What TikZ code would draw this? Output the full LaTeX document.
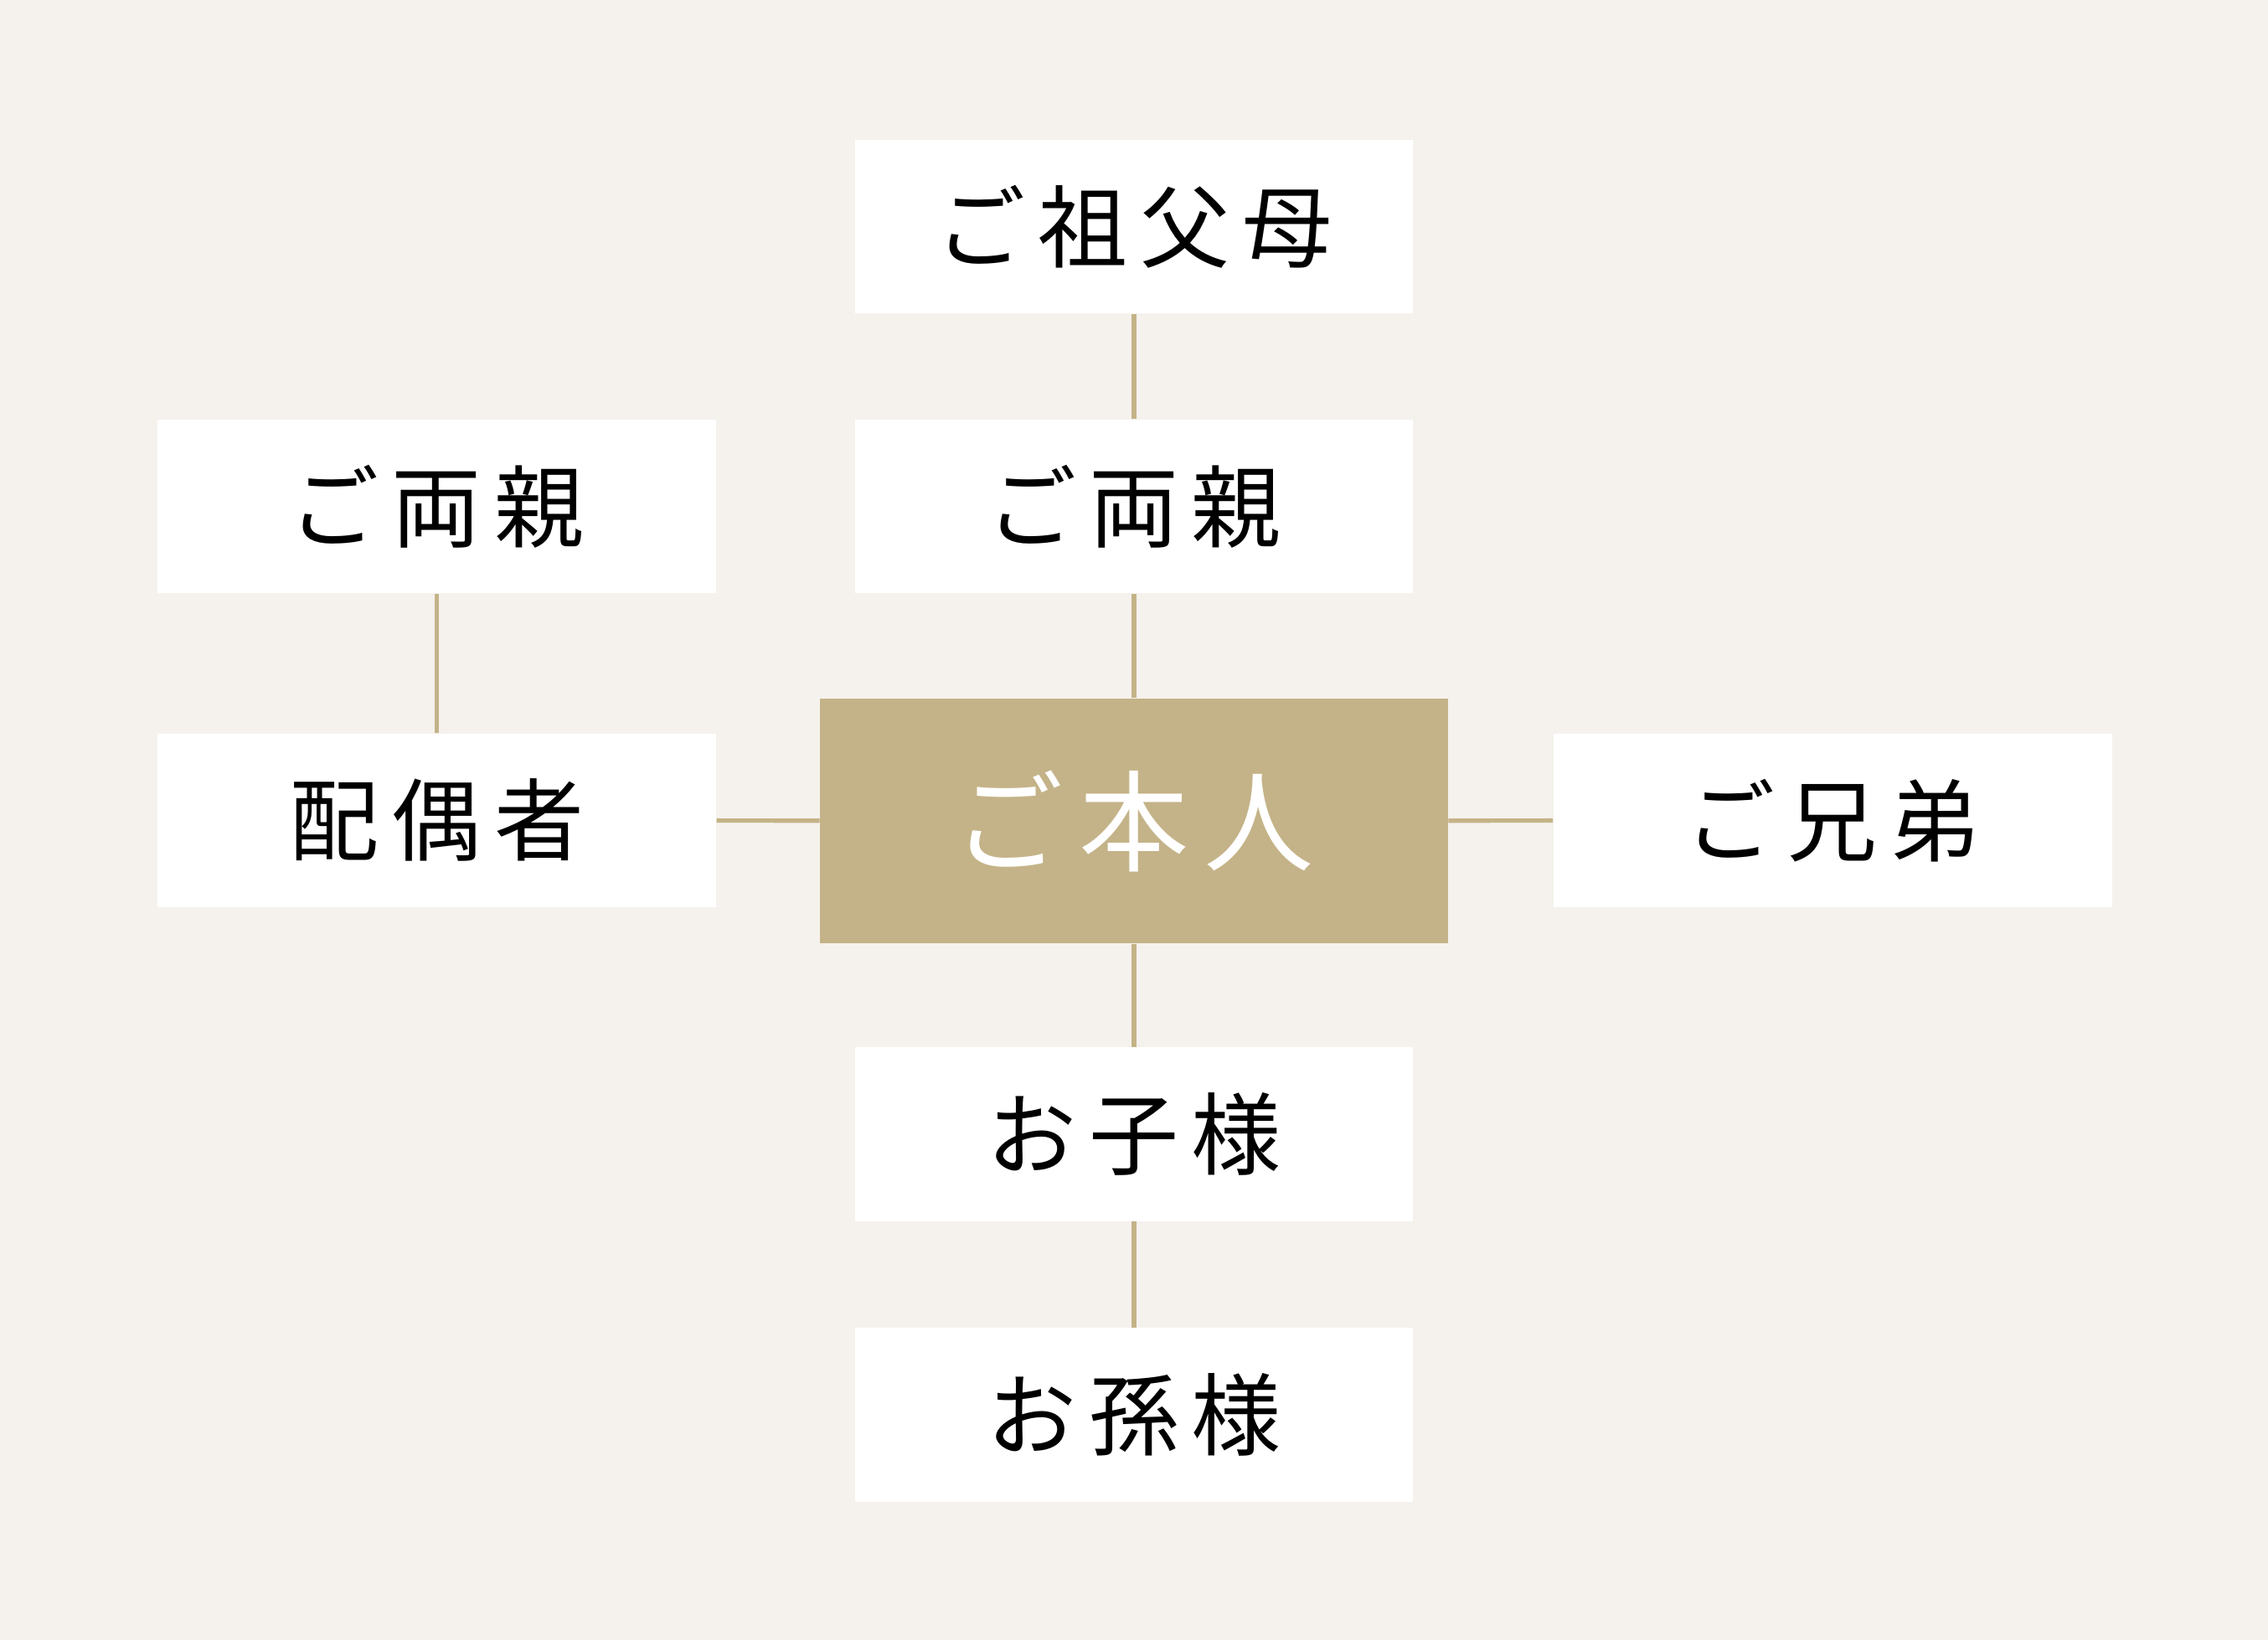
\documentclass[tikz,border=0pt]{standalone}
\usepackage{fontspec}
\newfontfamily\cjk[LetterSpace=14]{Noto Sans CJK JP}
\definecolor{bg}{HTML}{F5F2ED}
\definecolor{gold}{HTML}{C4B388}
\begin{document}
\begin{tikzpicture}[x=0.5pt,y=-0.5pt,
  box/.style={fill=white,draw=none,minimum width=193pt,minimum height=60pt,inner sep=0pt,font=\cjk\fontsize{31}{31}\selectfont,text=black},
  selfbox/.style={fill=gold,draw=none,minimum width=217pt,minimum height=84.5pt,inner sep=0pt,font=\cjk\fontsize{38}{38}\selectfont,text=white},
  link/.style={draw=gold,line width=1.5pt}]
\fill[bg] (0,0) rectangle (1568,1134);
\useasboundingbox (0,0) rectangle (1568,1134);
\node[box] (gp) at (784,156.5) {ご祖父母};
\node[box] (par) at (784,350) {ご両親};
\node[box] (ipar) at (302,350) {ご両親};
\node[box] (sp) at (302,567) {配偶者};
\node[selfbox] (me) at (784,567.5) {ご本人};
\node[box] (sib) at (1267,567) {ご兄弟};
\node[box] (ch) at (784,784) {お子様};
\node[box] (gc) at (784,978) {お孫様};
\draw[link] (gp) -- (par);
\draw[link] (par) -- (me);
\draw[link] (ipar) -- (sp);
\draw[link] (sp) -- (me);
\draw[link] (me) -- (sib);
\draw[link] (me) -- (ch);
\draw[link] (ch) -- (gc);
\end{tikzpicture}
\end{document}
